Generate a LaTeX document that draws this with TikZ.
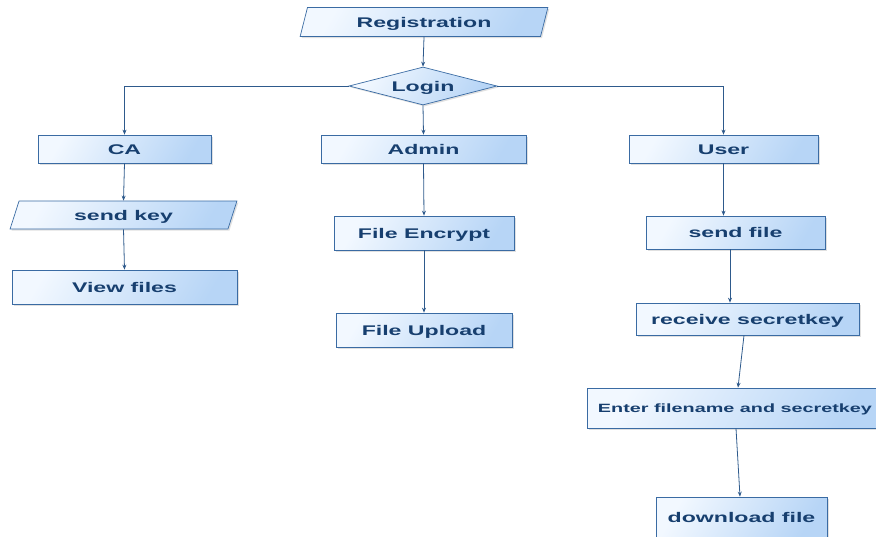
\documentclass[tikz,border=0pt]{standalone}
\usepackage{fontspec}
\newfontfamily\boxfont[FakeStretch=1.65,BoldFont={Liberation Sans Bold}]{Liberation Sans}
\usetikzlibrary{shapes.geometric,arrows.meta,shadows}
\definecolor{txtblue}{HTML}{173F6F}
\definecolor{edgeblue}{HTML}{3A6BA3}
\definecolor{lineblue}{HTML}{2E5A8C}
\definecolor{lightfill}{HTML}{F2F8FF}
\definecolor{darkfill}{HTML}{B7D5F6}
\begin{document}
\begin{tikzpicture}[x=1pt,y=-1pt,
  base/.style={draw=edgeblue, line width=0.7pt, top color=lightfill, bottom color=darkfill, shading angle=60,
    text=txtblue, font=\boxfont\bfseries\fontsize{14}{16}\selectfont, inner sep=0pt,
    text height=10pt, text depth=0pt,
    drop shadow={shadow xshift=1.5pt, shadow yshift=-1.5pt, opacity=0.12, fill=black}},
  boxnode/.style={base, rectangle},
  para/.style={base, trapezium, trapezium left angle=67, trapezium right angle=113, trapezium stretches=true},
  decision/.style={base, diamond, aspect=3.9},
  conn/.style={draw=lineblue, line width=0.8pt, -{Stealth[length=5pt,width=4pt]}}
]
\useasboundingbox (0,0) rectangle (876,536);

\node[para, minimum width=248, minimum height=29] (reg) at (424,22) {Registration};
\node[decision, minimum width=148, minimum height=38] (login) at (423,86) {Login};

\node[boxnode, minimum width=173, minimum height=28] (ca) at (124.5,149) {CA};
\node[boxnode, minimum width=205, minimum height=28] (admin) at (423.5,149) {Admin};
\node[boxnode, minimum width=189, minimum height=28] (user) at (723.5,149) {User};

\node[para, minimum width=227, minimum height=28] (sendkey) at (123.5,215) {send key};
\node[boxnode, minimum width=225, minimum height=34] (view) at (124.5,287) {View files};

\node[boxnode, minimum width=180, minimum height=34] (enc) at (424,233) {File Encrypt};
\node[boxnode, minimum width=176, minimum height=34] (upload) at (424,330) {File Upload};

\node[boxnode, minimum width=179, minimum height=33] (sendfile) at (735.5,232.5) {send file};
\node[boxnode, minimum width=223, minimum height=32] (recv) at (747.5,319) {receive secretkey};
\node[boxnode, minimum width=296, minimum height=40, text height=8.6pt, font=\boxfont\bfseries\fontsize{12}{14}\selectfont] (enter) at (735,408) {Enter filename and secretkey};
\node[boxnode, minimum width=171, minimum height=40] (download) at (741.5,517) {download file};

\draw[conn] (reg.south) -- (login.north);
\draw[conn] (login.west) -| (ca.north);
\draw[conn] (login.east) -| (user.north);
\draw[conn] (login.south) -- (admin.north);
\draw[conn] (ca.south) -- (sendkey.north);
\draw[conn] (sendkey.south) -- (view.north);
\draw[conn] (admin.south) -- (enc.north);
\draw[conn] (enc.south) -- (upload.north);
\draw[conn] (user.south) -- (user.south |- sendfile.north);
\draw[conn] ([xshift=-5.5pt]sendfile.south) -- ([xshift=-5.5pt]sendfile.south |- recv.north);
\draw[conn] ([xshift=-3.5pt]recv.south) -- ([xshift=3pt]enter.north);
\draw[conn] ([xshift=1pt]enter.south) -- ([xshift=-1.5pt]download.north);
\end{tikzpicture}
\end{document}
